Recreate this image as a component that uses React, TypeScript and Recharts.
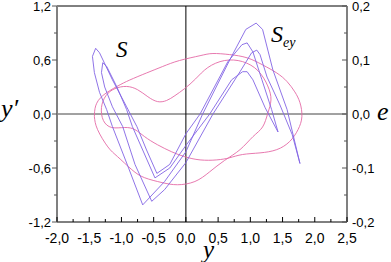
import {
	ComposedChart,
	Line,
	XAxis,
	YAxis,
	ReferenceLine,
} from 'recharts'

// S: phase portrait, y vs y' (left axis)
const sY = [
	-1.4, -1.45, -1.42, -1.34, -1.23, -1.14, -0.9, -0.67, -0.33, 0.0, 0.26, 0.68, 0.93,
	1.09, 1.19, 1.35, 1.57, 1.77, 1.65, 1.46, 1.26, 1.15, 1.1, 1.02, 0.84, 0.42, 0.0,
	-0.33, -0.53, -0.79, -0.98, -1.14, -1.26, -1.31, -1.29, -1.23, -1.07, -0.92, -0.83,
	-0.48, -0.25, 0.0, 0.37, 0.71, 0.88, 0.95, 1.04, 1.23, 1.43, 1.33, 1.18, 1.04, 0.95,
	0.87, 0.65, 0.22, 0.0, -0.25, -0.45, -0.61, -0.76, -0.92, -1.14, -1.34, -1.4,
]
const sYp = [
	0.73, 0.64, 0.46, 0.24, 0.05, -0.14, -0.58, -1.01, -0.75, -0.42, 0.0, 0.6, 0.94,
	1.01, 0.94, 0.49, 0.05, -0.55, -0.23, 0.1, 0.41, 0.66, 0.71, 0.68, 0.47, 0.0, -0.54,
	-0.84, -0.97, -0.56, -0.14, 0.08, 0.3, 0.46, 0.57, 0.53, 0.3, 0.05, -0.14,
	-0.71, -0.6, -0.35, 0.0, 0.38, 0.47, 0.47, 0.38, 0.07, -0.2, 0.05, 0.38, 0.69, 0.79,
	0.77, 0.58, 0.0, -0.22, -0.56, -0.66, -0.4, -0.14, 0.08, 0.38, 0.68, 0.73,
]

// S_ey: y vs e (right axis)
const eyY = [
	-1.42, -1.37, -1.21, -1.06, -0.84, -0.64, -0.37, -0.13, 0.14, 0.37, 0.6, 0.84, 1.04,
	1.19, 1.27, 1.32, 1.27, 1.12, 0.88, 0.6, 0.34, 0.15, -0.02, -0.17, -0.3, -0.44,
	-0.59, -0.75, -0.92, -1.1, -1.24, -1.31, -1.28, -1.15, -0.95, -0.79, -0.64, -0.44,
	-0.22, -0.02, 0.22, 0.48, 0.68, 0.88, 1.15, 1.41, 1.61, 1.74, 1.8, 1.77, 1.69, 1.57,
	1.41, 1.19, 0.95, 0.68, 0.42, 0.22, -0.1, -0.36, -0.61, -0.87, -1.07, -1.29, -1.4,
	-1.42,
]
const eyE = [
	-0.005, -0.029, -0.061, -0.079, -0.103, -0.118, -0.127, -0.131, -0.125, -0.107,
	-0.086, -0.066, -0.042, -0.024, 0.001, 0.026, 0.052, 0.08, 0.097, 0.099, 0.086,
	0.065, 0.047, 0.034, 0.025, 0.023, 0.032, 0.045, 0.051, 0.047, 0.034, 0.012,
	-0.012, -0.025, -0.025, -0.029, -0.042, -0.057, -0.07, -0.079, -0.085, -0.085,
	-0.081, -0.075, -0.072, -0.066, -0.051, -0.029, -0.005, 0.021, 0.041, 0.06, 0.076,
	0.091, 0.104, 0.11, 0.112, 0.108, 0.099, 0.088, 0.076, 0.063, 0.051, 0.034, 0.015,
	-0.005,
]

const xTicks = [-2, -1.75, -1.5, -1.25, -1, -0.75, -0.5, -0.25, 0, 0.25, 0.5, 0.75, 1, 1.25, 1.5, 1.75, 2, 2.25, 2.5]
const leftTicks = [-1.2, -0.9, -0.6, -0.3, 0, 0.3, 0.6, 0.9, 1.2]
const rightTicks = [-0.2, -0.15, -0.1, -0.05, 0, 0.05, 0.1, 0.15, 0.2]

const sData = sY.map((x, i) => ({ x, yp: sYp[i] }))
const eyData = eyY.map((x, i) => ({ x, e: eyE[i] }))

const FONT = 'Liberation Sans, Arial, sans-serif'
const SERIF = 'Liberation Serif, Times New Roman, serif'

const fmt = (v: number) => v.toFixed(1).replace('.', ',').replace('-0,0', '0,0')
const isMajor = (v: number, step: number) =>
	Math.abs(v / step - Math.round(v / step)) < 1e-6

const BottomTick = (props: any) => {
	const { x, y, payload } = props
	const major = isMajor(payload.value, 0.5)
	return (
		<g>
			<line x1={x} y1={y} x2={x} y2={y - (major ? 5 : 3)} stroke='#000' />
			{major && (
				<text x={x} y={y + 21} textAnchor='middle' fontSize={14} fontFamily={FONT} fill='#000'>
					{fmt(payload.value)}
				</text>
			)}
		</g>
	)
}

const LeftTick = (props: any) => {
	const { x, y, payload } = props
	const major = isMajor(payload.value, 0.6)
	return (
		<g>
			<line x1={x - (major ? 5 : 3)} y1={y} x2={x} y2={y} stroke='#555' />
			{major && (
				<text x={x - 6} y={y + 5} textAnchor='end' fontSize={13} fontFamily={FONT} fill='#000'>
					{fmt(payload.value)}
				</text>
			)}
		</g>
	)
}

const RightTick = (props: any) => {
	const { x, y, payload } = props
	const major = isMajor(payload.value, 0.1)
	return (
		<g>
			<line x1={x - (major ? 5 : 3)} y1={y} x2={x} y2={y} stroke='#555' />
			{major && (
				<text x={x + 5} y={y + 5} textAnchor='start' fontSize={13} fontFamily={FONT} fill='#000'>
					{fmt(payload.value)}
				</text>
			)}
		</g>
	)
}

export default function App() {
	return (
		<div style={{ position: 'absolute', left: 0, top: 0, width: 391, height: 262, background: '#fff' }}>
			<ComposedChart
				width={391}
				height={262}
				margin={{ top: 6, right: 0, left: 0, bottom: 0 }}
			>
				<XAxis
					type='number'
					dataKey='x'
					domain={[-2, 2.5]}
					ticks={xTicks}
					interval={0}
					allowDataOverflow
					height={40}
					tickSize={0}
					tickMargin={0}
					tick={BottomTick}
					axisLine={{ stroke: '#000', strokeWidth: 1 }}
				/>
				<YAxis
					yAxisId='left'
					type='number'
					domain={[-1.2, 1.2]}
					ticks={leftTicks}
					interval={0}
					allowDataOverflow
					width={57}
					tickSize={0}
					tickMargin={0}
					tick={LeftTick}
					axisLine={{ stroke: '#808080', strokeWidth: 2 }}
				/>
				<YAxis
					yAxisId='right'
					orientation='right'
					type='number'
					domain={[-0.2, 0.2]}
					ticks={rightTicks}
					interval={0}
					allowDataOverflow
					width={44}
					tickSize={0}
					tickMargin={0}
					tick={RightTick}
					axisLine={{ stroke: '#808080', strokeWidth: 2 }}
				/>
				<ReferenceLine yAxisId='left' y={1.2} stroke='#000' strokeWidth={1} />
				<ReferenceLine yAxisId='left' y={0} stroke='#444' strokeWidth={1} />
				<ReferenceLine yAxisId='left' x={0} stroke='#000' strokeWidth={1} />
				<Line
					yAxisId='right'
					data={eyData}
					dataKey='e'
					type='natural'
					stroke='#e46aa6'
					strokeWidth={0.9}
					dot={false}
					activeDot={false}
					isAnimationActive={false}
				/>
				<Line
					yAxisId='left'
					data={sData}
					dataKey='yp'
					type='linear'
					stroke='#8264e4'
					strokeWidth={0.9}
					dot={false}
					activeDot={false}
					isAnimationActive={false}
				/>
			</ComposedChart>
			<svg
				width={391}
				height={262}
				style={{ position: 'absolute', left: 0, top: 0, pointerEvents: 'none' }}
			>
				<text x={1} y={117} fontSize={26} fontStyle='italic' fontFamily={SERIF}>y′</text>
				<text x={377} y={120} fontSize={26} fontStyle='italic' fontFamily={SERIF}>e</text>
				<text x={203} y={258} fontSize={25} fontStyle='italic' fontFamily={SERIF}>y</text>
				<text x={116} y={57} fontSize={23} fontStyle='italic' fontFamily={SERIF}>S</text>
				<text x={271} y={42} fontSize={24} fontStyle='italic' fontFamily={SERIF}>
					S
					<tspan fontSize={14} dy={5}>ey</tspan>
				</text>
			</svg>
		</div>
	)
}
